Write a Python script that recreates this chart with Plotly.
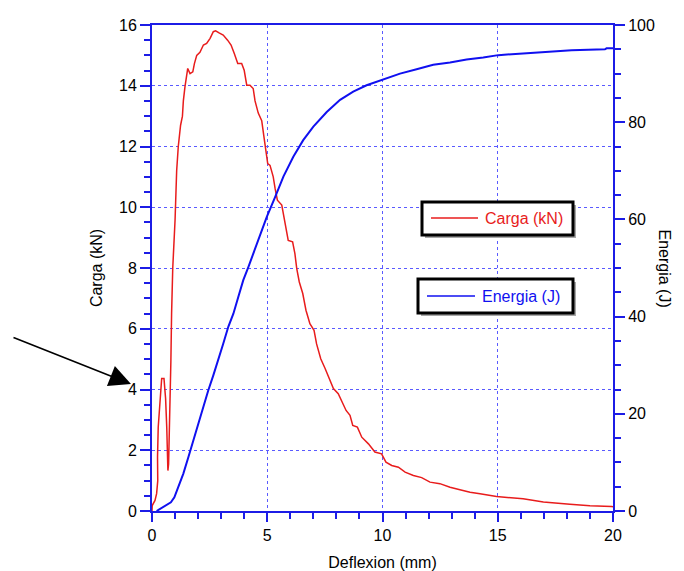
import plotly.graph_objects as go

# Carga (kN) vs Deflexion (mm)
carga_x = [0, 0.01, 0.13, 0.2, 0.25, 0.24, 0.27, 0.35, 0.42, 0.52, 0.59, 0.64, 0.68, 0.69, 0.72,
           0.78, 0.82, 0.85, 0.9, 1.0, 1.07, 1.14, 1.19, 1.24, 1.32, 1.36, 1.43, 1.5, 1.55, 1.65,
           1.77, 1.84, 1.94, 2.08, 2.23, 2.37, 2.52, 2.66, 2.76, 2.91, 3.09, 3.28, 3.43, 3.57,
           3.72, 3.89, 4.0, 4.11, 4.25, 4.39, 4.47, 4.61, 4.76, 4.86, 4.93, 5.02, 5.12, 5.26,
           5.34, 5.44, 5.63, 5.7, 5.81, 5.91, 6.1, 6.2, 6.28, 6.39, 6.54, 6.68, 6.85, 7.03, 7.14,
           7.32, 7.51, 7.69, 7.87, 8.08, 8.23, 8.42, 8.59, 8.71, 8.91, 9.1, 9.39, 9.67, 9.96,
           10.15, 10.4, 10.69, 10.98, 11.34, 11.7, 12.06, 12.49, 12.93, 13.36, 13.8, 14.23,
           14.95, 16.1, 16.98, 18.13, 19.0, 19.94, 20.0]
carga_y = [0, 0.18, 0.35, 0.57, 1.0, 1.77, 2.76, 3.75, 4.36, 4.36, 3.7, 2.76, 1.6, 1.33, 1.55,
           3.3, 4.96, 6.5, 8.0, 9.57, 11.2, 12.0, 12.5, 12.7, 13.0, 13.5, 13.96, 14.4, 14.57, 14.4,
           14.46, 14.73, 15.0, 15.1, 15.34, 15.39, 15.56, 15.78, 15.81, 15.74, 15.67, 15.5, 15.34,
           15.06, 14.73, 14.73, 14.51, 14.02, 14.02, 13.91, 13.5, 13.1, 12.85, 12.3, 11.88, 11.44,
           11.38, 11.0, 10.62, 10.23, 10.07, 9.79, 9.3, 8.91, 8.86, 8.47, 7.98, 7.54, 7.16, 6.61,
           6.17, 5.95, 5.5, 5.01, 4.69, 4.36, 4.03, 3.86, 3.64, 3.31, 3.15, 2.82, 2.76, 2.43, 2.21,
           1.94, 1.88, 1.61, 1.5, 1.44, 1.28, 1.17, 1.1, 0.95, 0.9, 0.78, 0.7, 0.62, 0.57, 0.48,
           0.4, 0.3, 0.22, 0.17, 0.15, 0.14]

# Energia (J) vs Deflexion (mm)
energia_x = [0.2, 0.35, 0.56, 0.82, 0.97, 1.14, 1.36, 1.58, 1.79, 2.01, 2.23, 2.44, 2.66, 2.88,
             3.09, 3.31, 3.53, 3.74, 3.96, 4.18, 4.61, 4.98, 5.34, 5.7, 6.13, 6.56, 7.0, 7.58,
             8.16, 8.73, 9.31, 9.99, 10.76, 11.48, 12.2, 12.93, 13.65, 14.37, 15.02, 16.26,
             17.13, 18.2, 19.65, 19.72, 20.0]
energia_y = [0, 0.45, 1.1, 1.8, 2.8, 4.9, 7.7, 11.1, 14.5, 18.0, 21.4, 24.8, 27.9, 31.0, 34.4,
             37.9, 40.6, 44.0, 47.5, 50.2, 55.7, 60.5, 64.6, 68.8, 72.9, 76.3, 79.1, 82.1, 84.6,
             86.3, 87.6, 88.8, 90.0, 90.9, 91.8, 92.3, 92.9, 93.3, 93.8, 94.2, 94.5, 94.8, 95.0,
             95.2, 95.2]

x_ticks = [0, 5, 10, 15, 20]
y_ticks = [0, 2, 4, 6, 8, 10, 12, 14, 16]
y2_ticks = [0, 20, 40, 60, 80, 100]
series_names = ["Carga (kN)", "Energia (J)"]

AXC = "#1c1ce6"
GRIDC = "#5a5aff"
RED = "#e81c1c"
BLUE = "#1010f0"
FONT = "Liberation Sans, Arial, sans-serif"

fig = go.Figure()
fig.add_trace(go.Scatter(x=carga_x, y=carga_y, mode="lines", name=series_names[0],
                         line=dict(color=RED, width=1.5), showlegend=False))
fig.add_trace(go.Scatter(x=energia_x, y=energia_y, mode="lines", name=series_names[1],
                         line=dict(color=BLUE, width=2), yaxis="y2", showlegend=False))

W, H = 684, 571
L, R, T, B = 152, 71, 25, 60
pw, ph = W - L - R, H - T - B

def px(xp):
    return (xp - L) / pw

def py(yp):
    return (H - B - yp) / ph

tickfont = dict(family=FONT, size=16, color="black")

fig.update_layout(
    width=W, height=H,
    margin=dict(l=L, r=R, t=T, b=B, autoexpand=False),
    paper_bgcolor="white", plot_bgcolor="white",
    font=dict(family=FONT, size=16, color="black"),
    xaxis=dict(range=[0, 20], tickvals=x_ticks, ticks="outside", ticklen=9, tickwidth=2,
               tickcolor=AXC, showline=True, linecolor=AXC, linewidth=2, mirror=True,
               showgrid=True, gridcolor=GRIDC, griddash="dot", gridwidth=1, zeroline=False,
               tickfont=tickfont,
               minor=dict(dtick=1, tick0=0, ticks="outside", ticklen=6, tickwidth=2,
                          tickcolor=AXC, showgrid=False),
               title=dict(text="Deflexion (mm)", font=dict(family=FONT, size=16), standoff=15)),
    yaxis=dict(range=[0, 16], tickvals=y_ticks, ticks="outside", ticklen=10, tickwidth=2,
               tickcolor=AXC, showline=True, linecolor=AXC, linewidth=2,
               showgrid=True, gridcolor=GRIDC, griddash="dot", gridwidth=1, zeroline=False,
               tickfont=tickfont,
               minor=dict(dtick=0.5, tick0=0, ticks="outside", ticklen=6, tickwidth=2,
                          tickcolor=AXC, showgrid=False),
               title=dict(text="Carga (kN)", font=dict(family=FONT, size=16), standoff=12)),
    yaxis2=dict(range=[0, 100], tickvals=y2_ticks, overlaying="y", side="right",
                ticks="outside", ticklen=10, tickwidth=2, tickcolor=AXC,
                showline=True, linecolor=AXC, linewidth=2, showgrid=False, zeroline=False,
                tickfont=tickfont,
                minor=dict(dtick=5, tick0=0, ticks="outside", ticklen=6, tickwidth=2,
                           tickcolor=AXC, showgrid=False)),
    showlegend=False,
)

# legend boxes drawn as shapes + text (box, shadow, sample line, label)
legend_boxes = [
    # x0, y0, x1, y1, line x0, line x1, line y, text x, colour, label
    (422, 202, 573, 235, 431, 478, 218, 483, RED, series_names[0]),
    (418, 279, 573, 313, 427, 475, 296, 480, BLUE, series_names[1]),
]
for (x0, y0, x1, y1, lx0, lx1, ly, tx, col, label) in legend_boxes:
    fig.add_shape(type="rect", xref="paper", yref="paper",
                  x0=px(x0 + 3), x1=px(x1 + 3), y0=py(y1 + 3), y1=py(y0 + 3),
                  fillcolor="#a8a8a8", line=dict(width=0), layer="above")
    fig.add_shape(type="rect", xref="paper", yref="paper",
                  x0=px(x0), x1=px(x1), y0=py(y1), y1=py(y0),
                  fillcolor="white", line=dict(color="black", width=3), layer="above")
    fig.add_shape(type="line", xref="paper", yref="paper",
                  x0=px(lx0), x1=px(lx1), y0=py(ly), y1=py(ly),
                  line=dict(color=col, width=1.5), layer="above")
    fig.add_annotation(text=label, xref="paper", yref="paper", x=px(tx), y=py(ly),
                       xanchor="left", yanchor="middle", showarrow=False,
                       font=dict(family=FONT, size=16, color=col))

# right axis title (reads top to bottom)
fig.add_annotation(text="Energia (J)", xref="paper", yref="paper", x=px(675), y=0.5,
                   showarrow=False, textangle=90, font=dict(family=FONT, size=16, color="black"))

# arrow pointing at the first peak
fig.add_annotation(text="", xref="paper", yref="paper", x=px(131), y=py(384),
                   ax=-119, ay=-47, axref="pixel", ayref="pixel", showarrow=True,
                   arrowhead=2, arrowsize=2.7, arrowwidth=1.6, arrowcolor="black", standoff=0)

fig.write_html("out.html", config={"displayModeBar": False},
               post_script="document.body.style.margin='0px';")
